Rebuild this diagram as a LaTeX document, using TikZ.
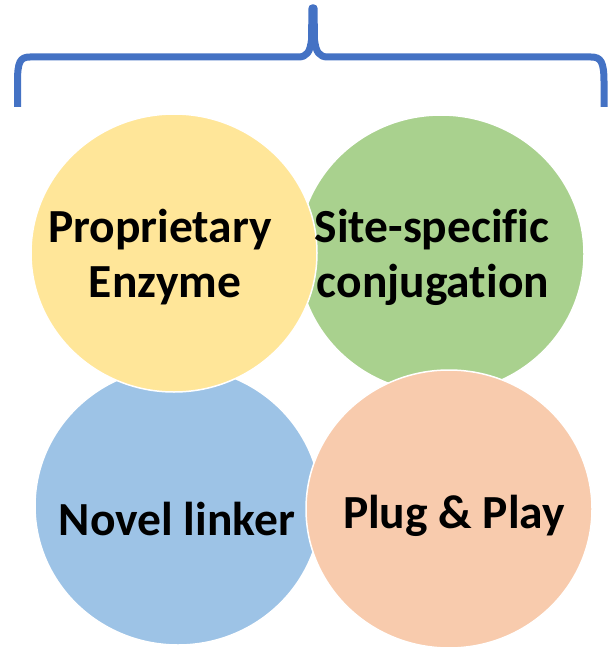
\documentclass[tikz,border=0pt]{standalone}
\usepackage{fontspec}
\setmainfont[Ligatures={NoCommon}]{Carlito}
\usetikzlibrary{shapes.geometric}
\definecolor{cyellow}{HTML}{FFE699}
\definecolor{cgreen}{HTML}{A9D18E}
\definecolor{cblue}{HTML}{9DC3E6}
\definecolor{corange}{HTML}{F8CBAD}
\definecolor{braceblue}{HTML}{4472C4}
\begin{document}
\begin{tikzpicture}[x=1pt,y=-1pt,
  disc/.style={ellipse, draw=white, line width=1.5pt, inner sep=0pt, outer sep=0pt, minimum width=286pt, minimum height=278pt},
  lbl/.style={font=\fontsize{47.5}{55}\selectfont\bfseries, anchor=base, inner sep=0pt, text=black},
  bracestyle/.style={draw=braceblue, line width=7pt, line join=round}]
\useasboundingbox (0,0) rectangle (608,647);
\node[disc, fill=cgreen] (green) at (441,254) {};
\node[disc, fill=cblue] (blue) at (178,506) {};
\node[disc, fill=cyellow] (yellow) at (174,253) {};
\node[disc, fill=corange] (orange) at (449,509) {};
\node[lbl] (y1) at (160,242) {Proprietary};
\node[lbl] (y2) at (165,297) {Enzyme};
\node[lbl] (g1) at (432,242) {Site-specific};
\node[lbl] (g2) at (433,297) {conjugation};
\node[lbl] (b1) at (177,535) {Novel linker};
\node[lbl] (o1) at (454,528) {Plug \& Play};
\coordinate (bl) at (17.5,107);
\coordinate (br) at (604,107);
\coordinate (bt) at (313,8);
\path[bracestyle] (bl) -- (17.5,82) .. controls (17.5,62) and (20,57) .. (30,57)
  -- (298,57) .. controls (307,57) and (310,52) .. (311.5,40) -- (312,8) -- (bt)
  -- (314,8) -- (314.5,40) .. controls (316,52) and (319,57) .. (328,57)
  -- (591,57) .. controls (601,57) and (604,62) .. (604,82) -- (br);
\end{tikzpicture}
\end{document}
